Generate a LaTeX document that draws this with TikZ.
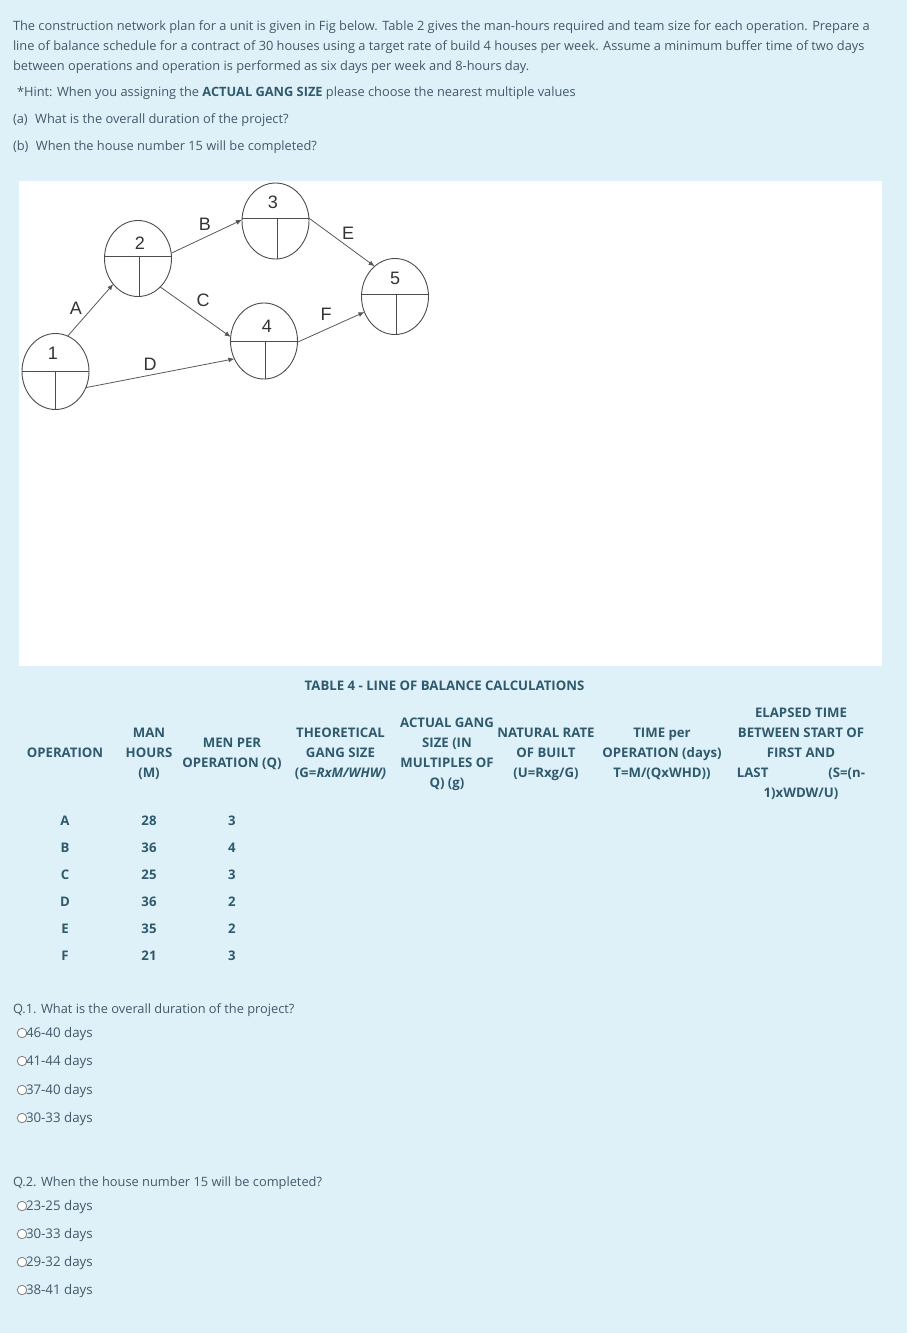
\documentclass[tikz,border=0pt]{standalone}
\usepackage{fontspec}
\setmainfont{Open Sans}
\newfontfamily\netfont{Liberation Sans}
\usetikzlibrary{shapes.geometric,arrows.meta}
\definecolor{pagebg}{HTML}{DEF1F8}
\definecolor{bodytxt}{HTML}{42596A}
\definecolor{headtxt}{HTML}{2F5A6E}
\tikzset{
  x=1pt,y=-1pt,
  every node/.style={inner sep=0pt,outer sep=0pt},
  para/.style={anchor=west,align=left,text=bodytxt,font=\fontsize{12.82}{20}\selectfont},
  optn/.style={anchor=west,align=left,text=bodytxt,font=\fontsize{13.3}{20}\selectfont},
  cell/.style={anchor=center,align=center,text=headtxt,font=\fontsize{13.2}{20}\selectfont\bfseries},
  netnode/.style={draw=black!70,ellipse,minimum width=67pt,minimum height=76pt,line width=0.9pt},
  netnum/.style={font=\fontsize{18}{18}\selectfont\netfont,text=black!80},
  netlab/.style={font=\fontsize{18}{18}\selectfont\netfont,text=black!80},
  divider/.style={draw=black!70,line width=1pt},
  netarrow/.style={draw=black!65,line width=0.8pt,-{Latex[length=6pt,width=5pt]}},
  radio/.style={draw=black!50,fill=white,circle,minimum size=9.5pt,line width=0.8pt},
}
\begin{document}
\begin{tikzpicture}
\useasboundingbox (0,0) rectangle (916,1333);
\fill[white] (0,0) rectangle (916,1333);
\fill[pagebg] (0,0) rectangle (907,1333);
\fill[white] (19,181) rectangle (882,666);

\node[para] (intro) at (13,47) {The construction network plan for a unit is given in Fig below. Table 2 gives the man-hours required and team size for each operation. Prepare a\\line of balance schedule for a contract of 30 houses using a target rate of build 4 houses per week. Assume a minimum buffer time of two days\\between operations and operation is performed as six days per week and 8-hours day.};
\node[para] (hint) at (17,93) {*Hint: When you assigning the \textcolor{headtxt}{\textbf{ACTUAL GANG SIZE}} please choose the nearest multiple values};
\node[para] (qa) at (13,120) {(a)\hspace{7.5pt}What is the overall duration of the project?};
\node[para] (qb) at (13,147) {(b)\hspace{7.5pt}When the house number 15 will be completed?};

% network
\node[netnode] (n1) at (55.5,371.5) {};
\node[netnode] (n2) at (138,258.5) {};
\node[netnode] (n3) at (275.5,221) {};
\node[netnode] (n4) at (264,341) {};
\node[netnode] (n5) at (395,296.5) {};
\foreach \n/\dx/\dy in {n1/0/0,n2/1.5/2.5,n3/1.5/3,n4/1.5/0,n5/1.5/2.5}{
  \draw[divider] ([yshift=\dy pt]\n.west) -- ([yshift=\dy pt]\n.east);
  \draw[divider] ([xshift=\dx pt,yshift=\dy pt]\n.center) -- ([xshift=\dx pt]\n.south);
}
\node[netnum] (t1) at (53,353) {1};
\node[netnum] (t2) at (140,243) {2};
\node[netnum] (t3) at (273,202) {3};
\node[netnum] (t4) at (267,326) {4};
\node[netnum] (t5) at (395,278) {5};
\draw[netarrow] (n1.71) -- (n2.226);
\draw[netarrow] (n2.9) -- (n3.178);
\draw[netarrow] (n2.-52) -- (n4.173);
\draw[netarrow] (n1.-28) -- (n4.211.5);
\draw[netarrow] (n3.5) -- (n5.124);
\draw[netarrow] (n4.-2) -- (n5.207);
\node[netlab] (la) at (76,308) {A};
\node[netlab] (lb) at (205,224) {B};
\node[netlab] (lc) at (203,300) {C};
\node[netlab] (ld) at (150,364) {D};
\node[netlab] (le) at (348,233) {E};
\node[netlab] (lf) at (326,314) {F};

% table
\node[cell] (title) at (444.5,685.5) {TABLE 4 - LINE OF BALANCE CALCULATIONS};
\node[cell] (h1) at (65,752.5) {OPERATION};
\node[cell] (h2) at (149,753.5) {MAN\\HOURS\\(M)};
\node[cell] (h3) at (232,754) {MEN PER\\OPERATION (Q)};
\node[cell] (h4) at (340.5,753.5) {THEORETICAL\\GANG SIZE\\(G=\textit{RxM/WHW)}};
\node[cell] (h5) at (447,754) {ACTUAL GANG\\SIZE (IN\\MULTIPLES OF\\Q) (g)};
\node[cell] (h6) at (546,754) {NATURAL RATE\\OF BUILT\\(U=Rxg/G)};
\node[cell] (h7) at (662,754) {TIME per\\OPERATION (days)\\T=M/(QxWHD))};
\node[cell] (h8) at (801,753.5) {ELAPSED TIME\\BETWEEN START OF\\FIRST AND\\LAST\hspace{60pt}(S=(n-\\1)xWDW/U)};

\foreach \r/\op/\mh/\mp/\yy in {1/A/28/3/820.5,2/B/36/4/847.5,3/C/25/3/874.5,4/D/36/2/901.5,5/E/35/2/928.5,6/F/21/3/955.5}{
  \node[cell] (op\r) at (65,\yy) {\op};
  \node[cell] (mh\r) at (149,\yy) {\mh};
  \node[cell] (mp\r) at (232,\yy) {\mp};
}

% questions
\node[para] (q1) at (13,1010) {Q.1. What is the overall duration of the project?};
\foreach \k/\t/\yy in {1/46-40 days/1034,2/41-44 days/1062,3/37-40 days/1091,4/30-33 days/1119}{
  \node[radio] (ra\k) at (22,\yy-1) {};
  \node[optn] (ta\k) at (26,\yy) {\t};
}
\node[para] (q2) at (13,1183) {Q.2. When the house number 15 will be completed?};
\foreach \k/\t/\yy in {1/23-25 days/1207,2/30-33 days/1235,3/29-32 days/1263,4/38-41 days/1291}{
  \node[radio] (rb\k) at (22,\yy-1) {};
  \node[optn] (tb\k) at (26,\yy) {\t};
}
\end{tikzpicture}
\end{document}
